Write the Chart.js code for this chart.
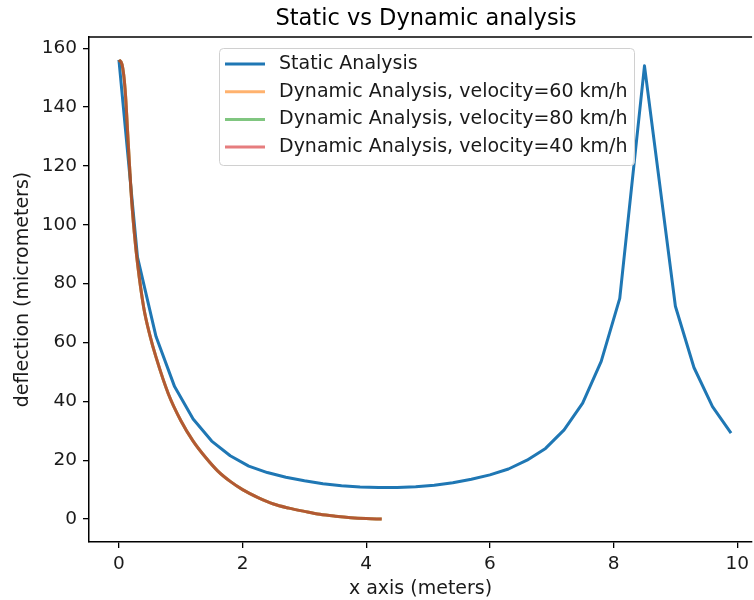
<!DOCTYPE html>
<html>
<head>
<meta charset="utf-8">
<script src="https://cdn.jsdelivr.net/npm/chart.js@4.4.0/dist/chart.umd.min.js"></script>
<style>
  html, body { margin: 0; padding: 0; background: #fff; }
  #wrap { width: 754px; height: 600px; }
</style>
</head>
<body>
<div id="wrap"><canvas id="grafico" width="754" height="600"></canvas></div>
<script>
// datos
const staticX = [0, 0.3, 0.6, 0.9, 1.2, 1.5, 1.8, 2.1, 2.4, 2.7, 3.0, 3.3, 3.6, 3.9, 4.2, 4.5, 4.8, 5.1, 5.4, 5.7, 6.0, 6.3, 6.6, 6.9, 7.2, 7.5, 7.8, 8.1, 8.5, 9.0, 9.3, 9.6, 9.9];
const staticY = [156, 89, 62, 45, 34, 26.5, 21.5, 18, 15.8, 14.2, 13, 12, 11.3, 10.9, 10.7, 10.7, 11, 11.5, 12.3, 13.5, 15, 17, 20, 24, 30.3, 39.4, 53.6, 75, 154, 72.3, 51.5, 38.2, 29.2];

// las tres curvas dinamicas se superponen
const dynamicX = [0, 0.05, 0.1, 0.15, 0.2, 0.25, 0.3, 0.4, 0.5, 0.6, 0.8, 1.0, 1.2, 1.4, 1.6, 1.8, 2.0, 2.25, 2.5, 2.75, 3.0, 3.25, 3.5, 3.75, 4.0, 4.25];
const dynamic60 = [156, 154.5, 146, 128, 110, 97, 87, 72, 62.5, 55, 42.5, 33.5, 26.5, 21, 16.3, 12.8, 10, 7.3, 5.1, 3.7, 2.6, 1.6, 0.95, 0.45, 0.15, 0];
const dynamic80 = dynamic60.slice();
const dynamic40 = dynamic60.slice();

const xTicks = [0, 2, 4, 6, 8, 10];
const yTicks = [0, 20, 40, 60, 80, 100, 120, 140, 160];

const toPoints = (xs, ys) => xs.map((x, i) => ({ x: x, y: ys[i] }));

const FONT = "'DejaVu Sans', sans-serif";
const TITULO = "Static vs Dynamic analysis";

// titulo, marco superior y leyenda dibujados a mano
const extras = {
  id: "extras",
  afterDraw(chart) {
    const ctx = chart.ctx;
    const a = chart.chartArea;
    ctx.save();

    ctx.fillStyle = "#000";
    ctx.font = "22.5px " + FONT;
    ctx.textAlign = "center";
    ctx.textBaseline = "middle";
    ctx.fillText(TITULO, 426, 19);

    ctx.strokeStyle = "#000";
    ctx.lineWidth = 1.5;
    ctx.beginPath();
    ctx.moveTo(a.left, a.top);
    ctx.lineTo(a.right, a.top);
    ctx.stroke();

    // leyenda
    const bx = 219, by = 48, bw = 415, bh = 117;
    ctx.fillStyle = "rgba(255,255,255,0.8)";
    ctx.strokeStyle = "#d0d0d0";
    ctx.lineWidth = 1;
    ctx.beginPath();
    ctx.roundRect(bx + 0.5, by + 0.5, bw, bh, 4);
    ctx.fill();
    ctx.stroke();

    ctx.font = "19px " + FONT;
    ctx.textBaseline = "middle";
    ctx.textAlign = "left";
    chart.data.datasets.forEach((ds, i) => {
      const yy = 64 + i * 27.7;
      ctx.strokeStyle = ds.borderColor;
      ctx.lineWidth = 3;
      ctx.beginPath();
      ctx.moveTo(225, yy);
      ctx.lineTo(265, yy);
      ctx.stroke();
      ctx.fillStyle = "#1a1a1a";
      ctx.fillText(ds.label, 279, yy);
    });
    ctx.restore();
  }
};

const ctx = document.getElementById("grafico").getContext("2d");

new Chart(ctx, {
  type: "line",
  data: {
    datasets: [
      {
        label: "Static Analysis",
        data: toPoints(staticX, staticY),
        borderColor: "#1f77b4",
        borderWidth: 3,
        borderJoinStyle: "round",
        pointRadius: 0,
        tension: 0,
        order: 4
      },
      {
        label: "Dynamic Analysis, velocity=60 km/h",
        data: toPoints(dynamicX, dynamic60),
        borderColor: "rgba(255,127,14,0.6)",
        borderWidth: 3,
        borderJoinStyle: "round",
        pointRadius: 0,
        cubicInterpolationMode: "monotone",
        order: 3
      },
      {
        label: "Dynamic Analysis, velocity=80 km/h",
        data: toPoints(dynamicX, dynamic80),
        borderColor: "rgba(44,160,44,0.6)",
        borderWidth: 3,
        borderJoinStyle: "round",
        pointRadius: 0,
        cubicInterpolationMode: "monotone",
        order: 2
      },
      {
        label: "Dynamic Analysis, velocity=40 km/h",
        data: toPoints(dynamicX, dynamic40),
        borderColor: "rgba(214,39,40,0.6)",
        borderWidth: 3,
        borderJoinStyle: "round",
        pointRadius: 0,
        cubicInterpolationMode: "monotone",
        order: 1
      }
    ]
  },
  options: {
    responsive: false,
    animation: false,
    layout: { padding: { left: 0, right: 0, top: 37, bottom: 0 } },
    plugins: {
      legend: { display: false },
      tooltip: { enabled: false },
      title: { display: false }
    },
    scales: {
      x: {
        type: "linear",
        min: -0.484,
        max: 10.24,
        afterFit(scale) { scale.height = 58; },
        afterBuildTicks(scale) { scale.ticks = xTicks.map(v => ({ value: v })); },
        grid: { display: true, drawOnChartArea: false, drawTicks: true, tickLength: 6, color: "#000", lineWidth: 1.3 },
        border: { display: true, color: "#000", width: 1.5 },
        ticks: { color: "#1a1a1a", font: { family: FONT, size: 18.5 }, padding: 5, maxRotation: 0 },
        title: {
          display: true,
          text: "x axis (meters)",
          color: "#1a1a1a",
          font: { family: FONT, size: 19 },
          padding: { top: 5, bottom: 0 }
        }
      },
      y: {
        type: "linear",
        min: -7.8,
        max: 163.8,
        afterFit(scale) { scale.width = 89; },
        afterBuildTicks(scale) { scale.ticks = yTicks.map(v => ({ value: v })); },
        grid: { display: true, drawOnChartArea: false, drawTicks: true, tickLength: 6, color: "#000", lineWidth: 1.3 },
        border: { display: true, color: "#000", width: 1.5 },
        ticks: { color: "#1a1a1a", font: { family: FONT, size: 18.5 }, padding: 6 },
        title: {
          display: true,
          text: "deflection (micrometers)",
          color: "#1a1a1a",
          font: { family: FONT, size: 19 },
          padding: { top: 12, bottom: 0 }
        }
      }
    }
  },
  plugins: [extras]
});
</script>
</body>
</html>
